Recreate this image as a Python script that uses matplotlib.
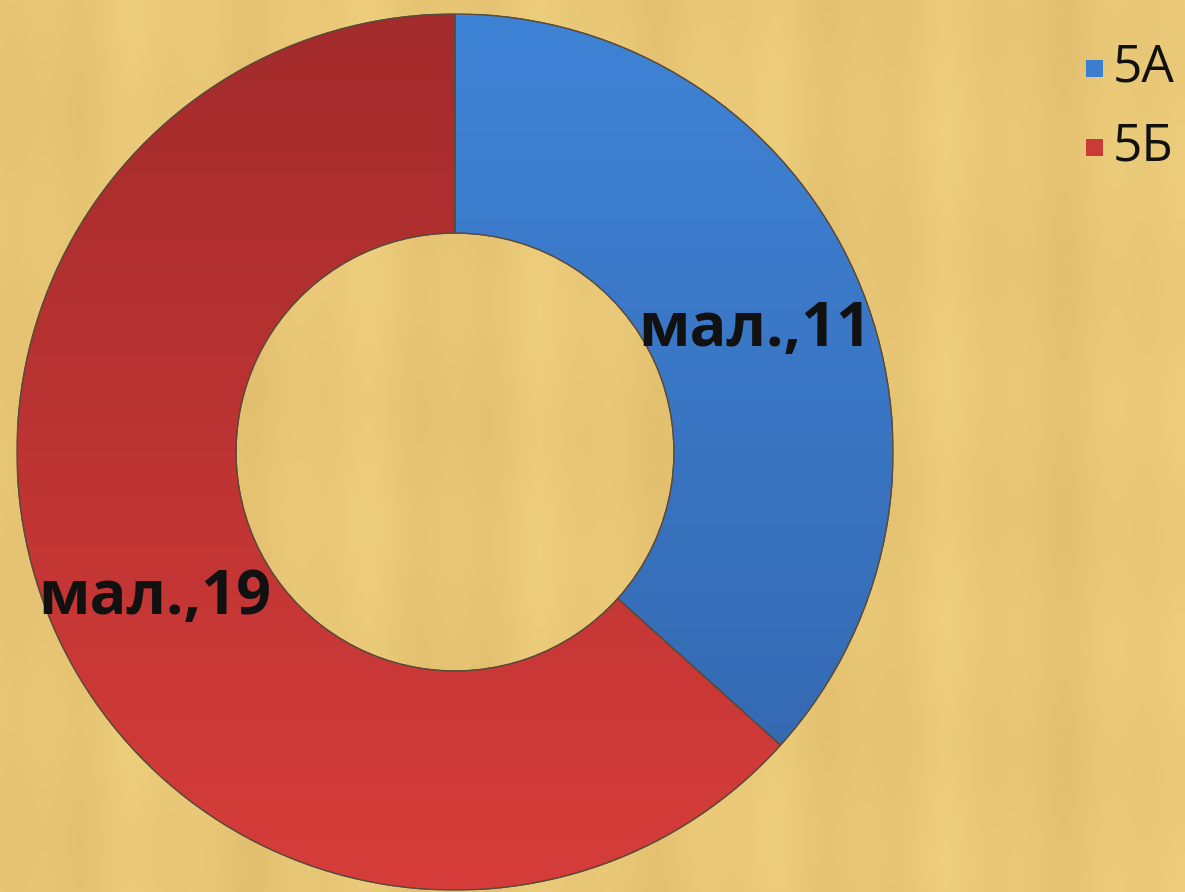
import numpy as np
import matplotlib
matplotlib.use("Agg")
import matplotlib.pyplot as plt
from matplotlib.colors import LinearSegmentedColormap
from matplotlib.patches import Wedge, Rectangle
from matplotlib.transforms import offset_copy

categories = ["5А", "5Б"]
values = [11, 19]
labels = ["мал.,11", "мал.,19"]
base_colors = ["#3C7DD0", "#CC3A38"]
grad_top = ["#3F83D6", "#A32B2C"]
grad_bottom = ["#3365AC", "#D63D3A"]

W, H = 1185, 892
fig = plt.figure(figsize=(W / 100, H / 100), dpi=100)

# parchment background
bg = fig.add_axes([0, 0, 1, 1])
bg.set_axis_off()
xx = np.linspace(0, 1, 400)
yy = np.linspace(0, 1, 300)
X, Y = np.meshgrid(xx, yy)
streak = 0.5 + 0.25 * np.sin(X * 37) + 0.15 * np.sin(X * 91 + 1.3) + 0.1 * np.sin(Y * 23 + X * 5)
c1 = np.array([0.93, 0.81, 0.49])
c2 = np.array([0.86, 0.71, 0.40])
img = c1[None, None, :] * (1 - streak[..., None] * 0.6) + c2[None, None, :] * (streak[..., None] * 0.6)
bg.imshow(np.clip(img, 0, 1), extent=[0, 1, 0, 1], aspect="auto", origin="lower")
bg.set_xlim(0, 1)
bg.set_ylim(0, 1)

cx, cy, R = 455, 452, 438
ax = fig.add_axes([(cx - R) / W, (H - cy - R) / H, 2 * R / W, 2 * R / H])
ax.set_axis_off()
ax.patch.set_alpha(0)

wedges, _ = ax.pie(values, colors=base_colors, startangle=90, counterclock=False,
                   radius=1.0, wedgeprops=dict(width=0.5, edgecolor="#5a4a3a", linewidth=1.0))
ax.set_xlim(-1, 1)
ax.set_ylim(-1, 1)
ax.set_aspect("equal")

for w, t, b in zip(wedges, grad_top, grad_bottom):
    cmap = LinearSegmentedColormap.from_list("g", [b, t])
    grad = np.linspace(0, 1, 256).reshape(-1, 1)
    im = ax.imshow(grad, cmap=cmap, extent=[-1, 1, -1, 1], origin="lower", aspect="auto",
                   zorder=w.get_zorder() + 0.1)
    im.set_clip_path(w)
    edge = Wedge(w.center, w.r, w.theta1, w.theta2, width=w.width,
                 facecolor="none", edgecolor="#5a4a3a", linewidth=1.0,
                 zorder=w.get_zorder() + 0.2)
    ax.add_patch(edge)

label_tr = offset_copy(ax.transData, fig=fig, x=0, y=-9, units="points")
for w, lab in zip(wedges, labels):
    ang = np.deg2rad((w.theta1 + w.theta2) / 2)
    r = 0.75
    ax.text(r * np.cos(ang), r * np.sin(ang), lab, ha="center", va="center",
            fontsize=44, fontweight="bold", family="Open Sans", color="#111111",
            zorder=10, transform=label_tr)

# legend (manual)
leg_x_sq = 1086
leg_x_txt = 1113
leg_y = [68, 147]
sq = 17
for c, cat, yc in zip(base_colors, categories, leg_y):
    fig.patches.append(Rectangle((leg_x_sq / W, (H - yc - sq / 2) / H), sq / W, sq / H,
                                 transform=fig.transFigure, facecolor=c, edgecolor="none"))
    fig.text(leg_x_txt / W, (H - yc) / H, cat, ha="left", va="center",
             fontsize=37, family="Open Sans", color="#111111")

fig.savefig("out.png", dpi=100)
